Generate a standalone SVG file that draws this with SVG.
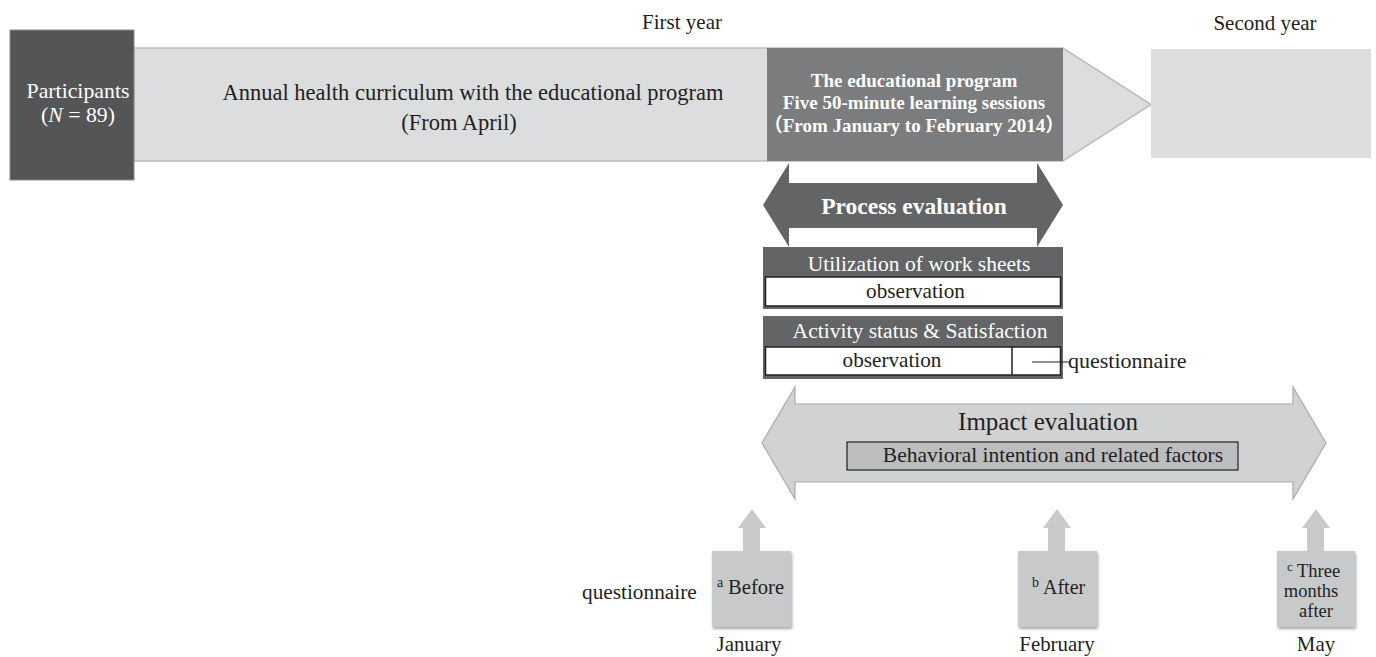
<svg xmlns="http://www.w3.org/2000/svg" width="1376" height="657" viewBox="0 0 1376 657" font-family="'Liberation Serif', 'Times New Roman', 'Noto Sans CJK JP', serif">
<style>
text{fill:#231f20}
.w{fill:#fff}
.b{font-weight:bold}
.c{text-anchor:middle}
.small{fill:#c8c9cb}
</style>
<defs>
<filter id="sh" x="-20%" y="-20%" width="140%" height="140%">
<feDropShadow dx="1" dy="2" stdDeviation="1.5" flood-color="#000" flood-opacity="0.35"/>
</filter>
</defs>
<rect width="1376" height="657" fill="#fff"/>
<g id="year-labels">
<text x="682" y="29" class="c" font-size="21">First year</text>
<text x="1265" y="30" class="c" font-size="21">Second year</text>
</g>
<g id="curriculum">
<polygon points="134,48 1063,48 1151,104.5 1063,161 134,161" fill="#dcdddf" stroke="#bcbdc0" stroke-width="1.5"/>
<text x="473" y="100" class="c" font-size="22.5">Annual health curriculum with the educational program</text>
<text x="459" y="130" class="c" font-size="22.5">(From April)</text>
</g>
<g id="second-year">
<rect x="1151" y="49" width="220" height="109" fill="#dcdddf"/>
</g>
<g id="participants">
<rect x="10" y="30" width="124" height="150" fill="#545557" stroke="#8a8b8d" stroke-width="1"/>
<text x="78" y="98" class="c w" font-size="21.8">Participants</text>
<text x="78" y="122" class="c w" font-size="21.8">(<tspan font-style="italic">N</tspan> = 89)</text>
</g>
<g id="educational-program">
<rect x="767" y="48" width="296" height="113" fill="#7b7c7e"/>
<text x="914" y="87" class="c w b" font-size="19">The educational program</text>
<text x="914" y="109" class="c w b" font-size="19">Five 50-minute learning sessions</text>
<text x="914" y="132" class="c w b" font-size="19">（From January to February 2014）</text>
</g>
<g id="process-evaluation">
<polygon points="763,205 789,163 789,183 1037,183 1037,163 1063,205 1037,247 1037,228 789,228 789,247" fill="#636466"/>
<text x="914" y="214" class="c w b" font-size="23.5">Process evaluation</text>
</g>
<g id="utilization">
<rect x="763" y="247" width="300" height="62" fill="#636466"/>
<text x="919" y="271" class="c w" font-size="21.5">Utilization of work sheets</text>
<rect x="765.5" y="277" width="295" height="29" fill="#fff" stroke="#231f20" stroke-width="1.5"/>
<text x="915.5" y="298" class="c" font-size="21.2">observation</text>
</g>
<g id="activity">
<rect x="763" y="316" width="300" height="63" fill="#636466"/>
<text x="920" y="338" class="c w" font-size="21.6">Activity status &amp; Satisfaction</text>
<rect x="765.5" y="347" width="295" height="28" fill="#fff" stroke="#231f20" stroke-width="1.5"/>
<line x1="1012" y1="347" x2="1012" y2="375" stroke="#231f20" stroke-width="1.5"/>
<text x="892" y="367" class="c" font-size="21.2">observation</text>
</g>
<g id="connectors">
<line x1="1032" y1="362" x2="1070" y2="362" stroke="#231f20" stroke-width="1.2"/>
</g>
<text x="1068" y="368" font-size="22">questionnaire</text>
<g id="impact-evaluation">
<polygon points="762,443 795,387 795,404 1293,404 1293,387 1326,443 1293,499 1293,482 795,482 795,499" fill="#d1d2d4" stroke="#a9aaac" stroke-width="1.2"/>
<text x="1048" y="430" class="c" font-size="25">Impact evaluation</text>
<rect x="847" y="442" width="391" height="28" fill="#bcbdbf" stroke="#231f20" stroke-width="1.2"/>
<text x="1053" y="462" class="c" font-size="21.5">Behavioral intention and related factors</text>
</g>
<g id="before">
<polygon points="752,509 766,528 760,528 760,551 743,551 743,528 738,528" class="small"/>
<rect x="712" y="551" width="79" height="76" class="small" filter="url(#sh)"/>
<text x="717" y="594" font-size="20.6"><tspan font-size="14" dy="-7">a</tspan><tspan x="728" dy="7">Before</tspan></text>
<text x="582" y="599" font-size="21.3">questionnaire</text>
<text x="749" y="651" class="c" font-size="20.9">January</text>
</g>
<g id="after">
<polygon points="1057,509 1071,528 1065,528 1065,551 1048,551 1048,528 1043,528" class="small"/>
<rect x="1018" y="551" width="79" height="76" class="small" filter="url(#sh)"/>
<text x="1032" y="594" font-size="20"><tspan font-size="14" dy="-7">b</tspan><tspan x="1043" dy="7">After</tspan></text>
<text x="1057" y="651" class="c" font-size="20.9">February</text>
</g>
<g id="three-months">
<polygon points="1316,509 1330,528 1324,528 1324,551 1307,551 1307,528 1302,528" class="small"/>
<rect x="1277" y="551" width="78" height="76" class="small" filter="url(#sh)"/>
<text x="1287" y="577" font-size="18.5"><tspan font-size="13" dy="-6">c</tspan><tspan x="1297" dy="6">Three</tspan></text>
<text x="1311" y="597" class="c" font-size="18.5">months</text>
<text x="1316" y="617" class="c" font-size="18.5">after</text>
<text x="1316" y="651" class="c" font-size="20.9">May</text>
</g>
</svg>
